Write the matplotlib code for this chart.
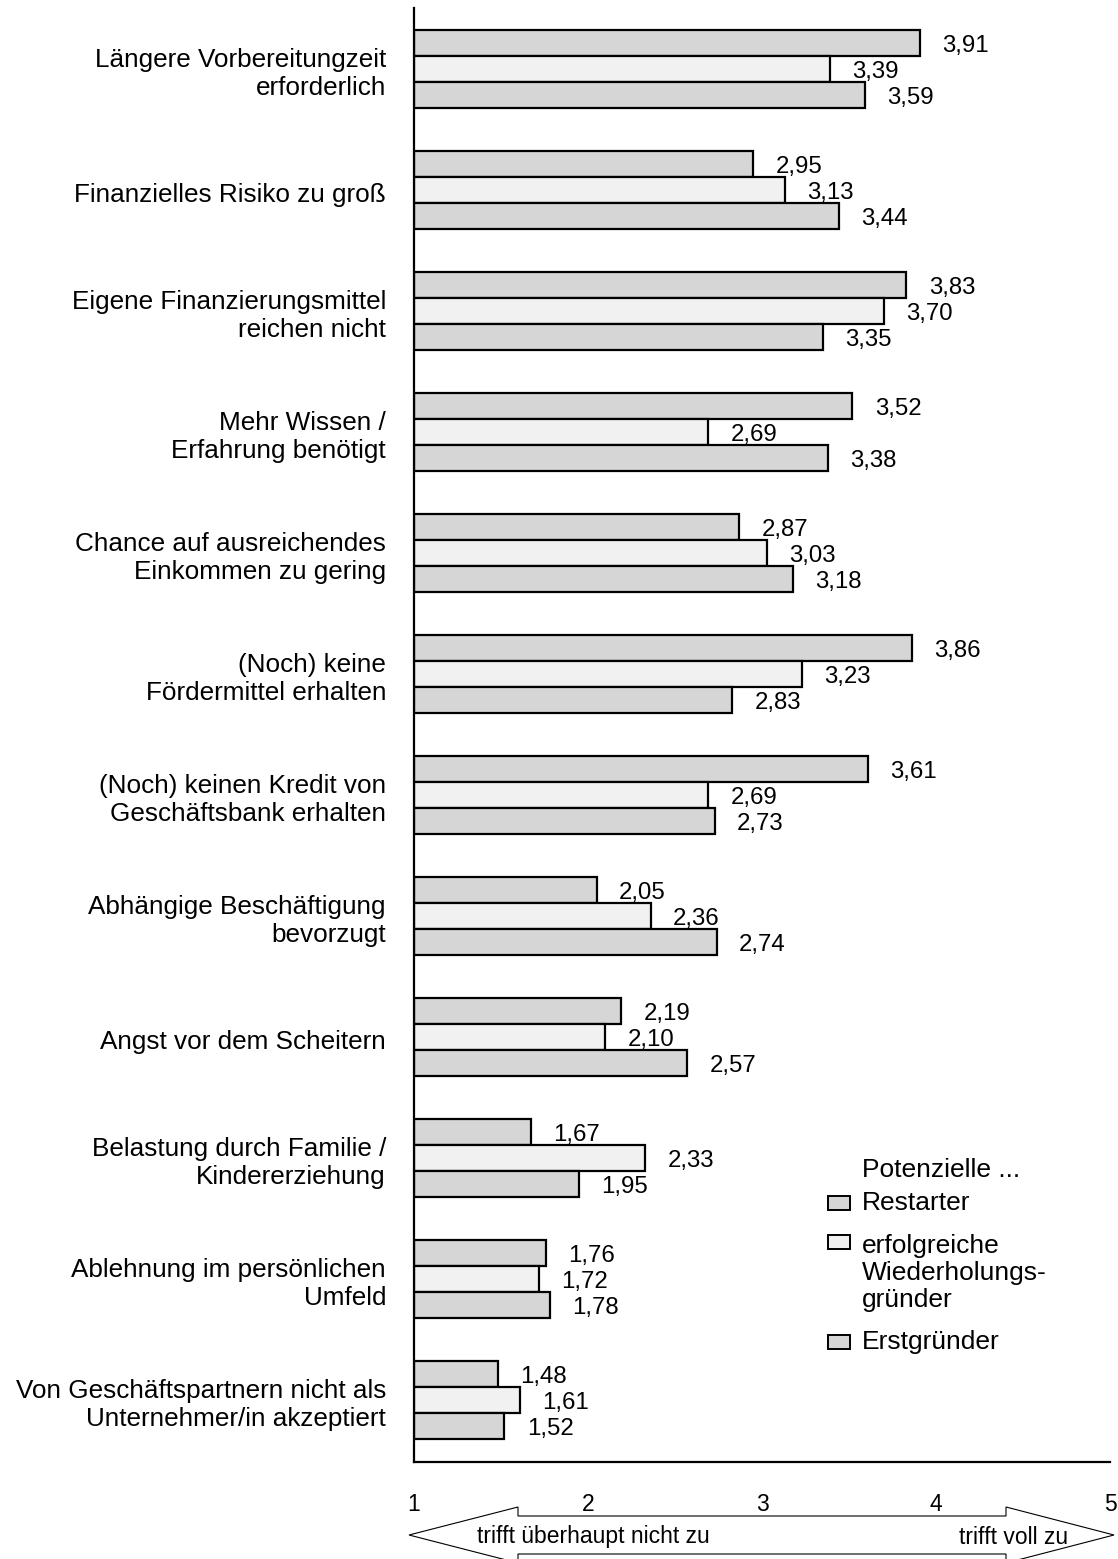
import matplotlib
matplotlib.use('Agg')
import matplotlib.pyplot as plt
from matplotlib.patches import Polygon, Rectangle
from matplotlib.transforms import ScaledTranslation

plt.rcParams['font.family'] = ['Liberation Sans', 'DejaVu Sans']

# ----------- Daten -----------

kategorien = [
    'Längere Vorbereitungzeit\nerforderlich',
    'Finanzielles Risiko zu groß',
    'Eigene Finanzierungsmittel\nreichen nicht',
    'Mehr Wissen /\nErfahrung benötigt',
    'Chance auf ausreichendes\nEinkommen zu gering',
    '(Noch) keine\nFördermittel erhalten',
    '(Noch) keinen Kredit von\nGeschäftsbank erhalten',
    'Abhängige Beschäftigung\nbevorzugt',
    'Angst vor dem Scheitern',
    'Belastung durch Familie /\nKindererziehung',
    'Ablehnung im persönlichen\nUmfeld',
    'Von Geschäftspartnern nicht als\nUnternehmer/in akzeptiert',
]
restarter = [3.91, 2.95, 3.83, 3.52, 2.87, 3.86, 3.61, 2.05, 2.19, 1.67, 1.76, 1.48]
wiederholer = [3.39, 3.13, 3.70, 2.69, 3.03, 3.23, 2.69, 2.36, 2.10, 2.33, 1.72, 1.61]
erstgruender = [3.59, 3.44, 3.35, 3.38, 3.18, 2.83, 2.73, 2.74, 2.57, 1.95, 1.78, 1.52]

serien = ['Restarter', 'erfolgreiche\nWiederholungs-\ngründer', 'Erstgründer']
farben = ['#d6d6d6', '#f1f1f1', '#d6d6d6']
skala = [1, 2, 3, 4, 5]

# ----------- Layout -----------

W, H = 1118, 1559
fig = plt.figure(figsize=(W / 100, H / 100), dpi=100)

def fx(px):
    return px / W

def fy(py):
    return 1 - py / H

ax = fig.add_axes([fx(414), fy(1462), fx(1110) - fx(414), fy(8) - fy(1462)])

fs = 16.5      # Achse / Pfeil
fs_wert = 17.3
fs_kat = 18.8
fs_leg = 19
h = 26 / 121
pos = list(range(len(kategorien)))

for k, (werte, farbe) in enumerate(zip([restarter, wiederholer, erstgruender], farben)):
    y = [p + (k - 1) * h for p in pos]
    ax.barh(y, [v - 1 for v in werte], left=1, height=h, color=farbe,
            edgecolor='black', linewidth=1.6)
    for yy, v in zip(y, werte):
        ax.annotate(f'{v:.2f}'.replace('.', ','), xy=(v, yy), xytext=(16, -2.5),
                    textcoords='offset points', ha='left', va='center', fontsize=fs_wert)

ax.set_xlim(1, 5)
ax.set_ylim(11 + 62 / 121, -61 / 121)

for s in ['top', 'right']:
    ax.spines[s].set_visible(False)
ax.spines['left'].set_linewidth(1.6)
ax.spines['bottom'].set_linewidth(1.6)

ax.set_yticks([])
ax.set_xticks(skala)
ax.set_xticklabels([str(s) for s in skala], fontsize=fs)
ax.tick_params(axis='x', length=0, pad=22)

# Kategorien links
trans = ax.get_yaxis_transform() + ScaledTranslation(-0.28, -0.05, fig.dpi_scale_trans)
for p, name in zip(pos, kategorien):
    ax.text(0, p, name, transform=trans, ha='right', va='center', fontsize=fs_kat,
            linespacing=1.22)

# Legende
fig.text(fx(862), fy(1170), 'Potenzielle ...', fontsize=fs_leg, ha='left', va='center')
leg_box = [1203, 1242, 1342]
leg_txt = [1203, 1273, 1342]
for by, ty, name, farbe in zip(leg_box, leg_txt, serien, farben):
    fig.add_artist(Rectangle((fx(828), fy(by + 7)), fx(22), fy(by - 7) - fy(by + 7),
                             transform=fig.transFigure, facecolor=farbe,
                             edgecolor='black', linewidth=1.4))
    fig.text(fx(862), fy(ty), name, fontsize=fs_leg, ha='left', va='center',
             linespacing=1.18)

# Pfeil unten
pfeil = [(409, 1535), (518, 1507), (518, 1516), (1006, 1516), (1006, 1507), (1114, 1535),
         (1006, 1563), (1006, 1554), (518, 1554), (518, 1563)]
fig.add_artist(Polygon([(fx(x), fy(y)) for x, y in pfeil], closed=True, transform=fig.transFigure,
                       facecolor='white', edgecolor='black', linewidth=0.8))
fig.text(fx(477), fy(1537), 'trifft überhaupt nicht zu', fontsize=fs, ha='left', va='center')
fig.text(fx(1068), fy(1537), 'trifft voll zu', fontsize=fs, ha='right', va='center')

fig.savefig('out.png', dpi=100)
